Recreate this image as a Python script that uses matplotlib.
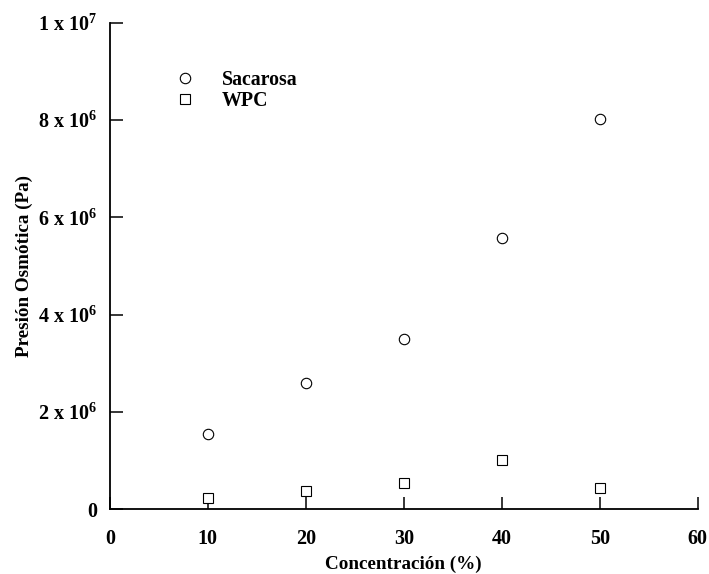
import matplotlib
matplotlib.use("Agg")
import matplotlib.pyplot as plt
from matplotlib.ticker import FixedLocator, FixedFormatter

plt.rcParams['font.family'] = ['Liberation Serif', 'DejaVu Serif']
plt.rcParams['font.weight'] = 'bold'
plt.rcParams['mathtext.default'] = 'regular'

conc = [10, 20, 30, 40, 50]
sacarosa = [1.54e6, 2.59e6, 3.50e6, 5.58e6, 8.02e6]
wpc = [0.23e6, 0.37e6, 0.53e6, 1.01e6, 0.44e6]

xticks = [0, 10, 20, 30, 40, 50, 60]
yticks = [0, 2e6, 4e6, 6e6, 8e6, 1e7]
ytick_labels = ['0', '2 x 10$^{6}$', '4 x 10$^{6}$', '6 x 10$^{6}$', '8 x 10$^{6}$', '1 x 10$^{7}$']

fig = plt.figure(figsize=(7.09, 5.74), dpi=100)
ax = fig.add_axes([0.155, 0.113, 0.829, 0.847])

ax.plot(conc, sacarosa, linestyle='none', marker='o', ms=7.5, mfc='white', mec='black', mew=0.8, label='Sacarosa', clip_on=False)
ax.plot(conc, wpc, linestyle='none', marker='s', ms=7.5, mfc='white', mec='black', mew=0.8, label='WPC', clip_on=False)

ax.set_xlim(0, 60)
ax.set_ylim(0, 1e7)
ax.xaxis.set_major_locator(FixedLocator(xticks))
ax.yaxis.set_major_locator(FixedLocator(yticks))
ax.yaxis.set_major_formatter(FixedFormatter(ytick_labels))
ax.set_xticklabels([str(t) for t in xticks])

for s in ['top', 'right']:
    ax.spines[s].set_visible(False)
for s in ['left', 'bottom']:
    ax.spines[s].set_linewidth(1.3)

ax.tick_params(direction='in', length=9, width=1.1, labelsize=14.5, pad=9)
ax.tick_params(axis='x', pad=14)
for lab in ax.get_xticklabels() + ax.get_yticklabels():
    lab.set_fontweight('bold')

ax.set_xlabel('Concentración (%)', fontsize=13.8, fontweight='bold', labelpad=5)
ax.set_ylabel('Presión Osmótica (Pa)', fontsize=13.8, fontweight='bold')
ax.yaxis.set_label_coords(-0.131, 0.5)

leg = ax.legend(loc='upper left', bbox_to_anchor=(0.08, 0.94), frameon=False,
                prop={'size': 14.3, 'weight': 'bold'}, handletextpad=1.35, labelspacing=0.05,
                handlelength=1.0)

fig.savefig('out.png', dpi=100)
